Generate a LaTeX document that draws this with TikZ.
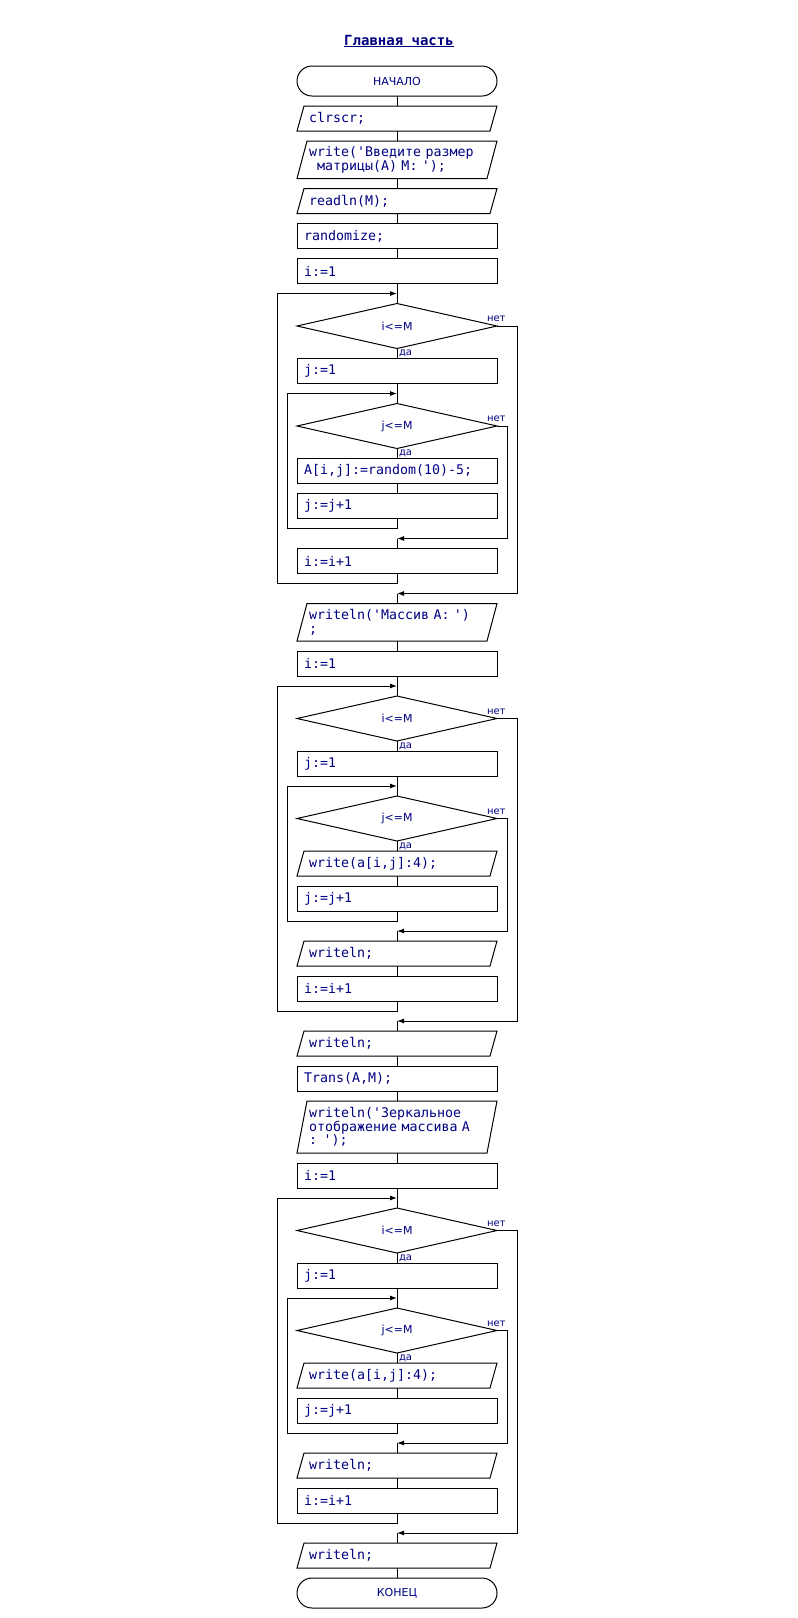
\documentclass[tikz,border=0pt]{standalone}
\usepackage{fontspec}
\setmainfont{DejaVu Sans}
\setmonofont{DejaVu Sans Mono}[WordSpace={1,0,0}]
\usetikzlibrary{arrows.meta,shapes.geometric}
\definecolor{navy}{RGB}{0,0,128}
\begin{document}
\begin{tikzpicture}[x=1pt,y=-1pt,line width=1pt,
  every node/.style={outer sep=0pt,text=navy},
  code/.style={font=\ttfamily\fontsize{13.3}{13.3}\selectfont,minimum width=200pt,minimum height=25pt,inner ysep=0pt,anchor=north,align=left},
  box/.style={code,draw,inner xsep=7pt,text width=186pt},
  io/.style={code,inner xsep=12pt,text width=176pt},
  cond/.style={diamond,draw,minimum width=200pt,minimum height=45pt,inner sep=0pt,anchor=north,font=\fontsize{11}{13}\selectfont},
  term/.style={draw,rounded corners=15pt,minimum width=200pt,minimum height=30pt,anchor=north,font=\fontsize{11}{13}\selectfont},
  lab/.style={inner sep=0pt,font=\fontsize{10}{12}\selectfont},
  flow/.style={-{Latex[length=7pt,width=5pt]}}]
\useasboundingbox (0,0) rectangle (798,1618);
\node[anchor=base,font=\ttfamily\bfseries\fontsize{14}{14}\selectfont] (title) at (399,45) {\underline{Главная часть}};
% main column
\node[term] (start) at (397,66) {НАЧАЛО};
\node[io] (clr) at (397,106) {clrscr;};
\node[io,minimum height=37.5pt] (wr) at (397,141) {write('Введите размер\\\hspace*{8pt}матрицы(A) M: ');};
\node[io] (rd) at (397,188.5) {readln(M);};
\node[box] (rnd) at (397,223.5) {randomize;};
\node[box] (i1) at (397,258.5) {i:=1};
\node[cond] (cA) at (397,303.5) {i<=M};
\node[box] (j1) at (397,358.5) {j:=1};
\node[cond] (cB) at (397,403.5) {j<=M};
\node[box] (ar) at (397,458.5) {A[i,j]:=random(10)-5;};
\node[box] (jn1) at (397,493.5) {j:=j+1};
\node[box] (in1) at (397,548.5) {i:=i+1};
\node[io,minimum height=37.5pt] (wm) at (397,603.5) {writeln('Массив A: ')\\;};
\node[box] (i2) at (397,651) {i:=1};
\node[cond] (cC) at (397,696) {i<=M};
\node[box] (j2) at (397,751) {j:=1};
\node[cond] (cD) at (397,796) {j<=M};
\node[io] (wa1) at (397,851) {write(a[i,j]:4);};
\node[box] (jn2) at (397,886) {j:=j+1};
\node[io] (wl1) at (397,941) {writeln;};
\node[box] (in2) at (397,976) {i:=i+1};
\node[io] (wl2) at (397,1031) {writeln;};
\node[box] (tr) at (397,1066) {Trans(A,M);};
\node[io,minimum height=52pt] (wz) at (397,1101) {writeln('Зеркальное\\отображение массива A\\: ');};
\node[box] (i3) at (397,1163) {i:=1};
\node[cond] (cE) at (397,1208) {i<=M};
\node[box] (j3) at (397,1263) {j:=1};
\node[cond] (cF) at (397,1308) {j<=M};
\node[io] (wa2) at (397,1363) {write(a[i,j]:4);};
\node[box] (jn3) at (397,1398) {j:=j+1};
\node[io] (wl3) at (397,1453) {writeln;};
\node[box] (in3) at (397,1488) {i:=i+1};
\node[io] (wl4) at (397,1543) {writeln;};
\node[term] (stop) at (397,1578) {КОНЕЦ};
% parallelograms
\draw (clr.south west) -- ([xshift=7]clr.north west) -- (clr.north east) -- ([xshift=-7]clr.south east) -- cycle;
\draw (wr.south west) -- ([xshift=10]wr.north west) -- (wr.north east) -- ([xshift=-10]wr.south east) -- cycle;
\draw (rd.south west) -- ([xshift=7]rd.north west) -- (rd.north east) -- ([xshift=-7]rd.south east) -- cycle;
\draw (wm.south west) -- ([xshift=10]wm.north west) -- (wm.north east) -- ([xshift=-10]wm.south east) -- cycle;
\draw (wa1.south west) -- ([xshift=7]wa1.north west) -- (wa1.north east) -- ([xshift=-7]wa1.south east) -- cycle;
\draw (wl1.south west) -- ([xshift=7]wl1.north west) -- (wl1.north east) -- ([xshift=-7]wl1.south east) -- cycle;
\draw (wl2.south west) -- ([xshift=7]wl2.north west) -- (wl2.north east) -- ([xshift=-7]wl2.south east) -- cycle;
\draw (wz.south west) -- ([xshift=10]wz.north west) -- (wz.north east) -- ([xshift=-10]wz.south east) -- cycle;
\draw (wa2.south west) -- ([xshift=7]wa2.north west) -- (wa2.north east) -- ([xshift=-7]wa2.south east) -- cycle;
\draw (wl3.south west) -- ([xshift=7]wl3.north west) -- (wl3.north east) -- ([xshift=-7]wl3.south east) -- cycle;
\draw (wl4.south west) -- ([xshift=7]wl4.north west) -- (wl4.north east) -- ([xshift=-7]wl4.south east) -- cycle;
% straight links
\draw (start) -- (clr);
\draw (clr) -- (wr);
\draw (wr) -- (rd);
\draw (rd) -- (rnd);
\draw (rnd) -- (i1);
\draw (i1) -- (cA);
\draw (cA) -- (j1);
\draw (j1) -- (cB);
\draw (cB) -- (ar);
\draw (ar) -- (jn1);
\draw (wm) -- (i2);
\draw (i2) -- (cC);
\draw (cC) -- (j2);
\draw (j2) -- (cD);
\draw (cD) -- (wa1);
\draw (wa1) -- (jn2);
\draw (wl1) -- (in2);
\draw (wl2) -- (tr);
\draw (tr) -- (wz);
\draw (wz) -- (i3);
\draw (i3) -- (cE);
\draw (cE) -- (j3);
\draw (j3) -- (cF);
\draw (cF) -- (wa2);
\draw (wa2) -- (jn3);
\draw (wl3) -- (in3);
\draw (wl4) -- (stop);
% loops, first part
\coordinate (inA) at (397,293.5);
\coordinate (backA) at (277,583.5);
\coordinate (exA) at (517,593.5);
\coordinate (outA) at (397,593.5);
\coordinate (inB) at (397,393.5);
\coordinate (backB) at (287,528.5);
\coordinate (exB) at (507,538.5);
\coordinate (outB) at (397,538.5);
\draw[flow] (jn1.south) |- (backB) |- (inB);
\draw[flow] (cB.east) -| (exB) -- (outB);
\draw (outB) -- (in1.north);
\draw[flow] (in1.south) |- (backA) |- (inA);
\draw[flow] (cA.east) -| (exA) -- (outA);
\draw (outA) -- (wm.north);
% loops, second part
\coordinate (inC) at (397,686);
\coordinate (backC) at (277,1011);
\coordinate (exC) at (517,1021);
\coordinate (outC) at (397,1021);
\coordinate (inD) at (397,786);
\coordinate (backD) at (287,921);
\coordinate (exD) at (507,931);
\coordinate (outD) at (397,931);
\draw[flow] (jn2.south) |- (backD) |- (inD);
\draw[flow] (cD.east) -| (exD) -- (outD);
\draw (outD) -- (wl1.north);
\draw[flow] (in2.south) |- (backC) |- (inC);
\draw[flow] (cC.east) -| (exC) -- (outC);
\draw (outC) -- (wl2.north);
% loops, third part
\coordinate (inE) at (397,1198);
\coordinate (backE) at (277,1523);
\coordinate (exE) at (517,1533);
\coordinate (outE) at (397,1533);
\coordinate (inF) at (397,1298);
\coordinate (backF) at (287,1433);
\coordinate (exF) at (507,1443);
\coordinate (outF) at (397,1443);
\draw[flow] (jn3.south) |- (backF) |- (inF);
\draw[flow] (cF.east) -| (exF) -- (outF);
\draw (outF) -- (wl3.north);
\draw[flow] (in3.south) |- (backE) |- (inE);
\draw[flow] (cE.east) -| (exE) -- (outE);
\draw (outE) -- (wl4.north);
% yes / no
\node[lab,anchor=west] (yA) at ([xshift=2,yshift=-5]cA.south) {да};
\node[lab,anchor=south west] (nA) at ([xshift=-10,yshift=4]cA.east) {нет};
\node[lab,anchor=west] (yB) at ([xshift=2,yshift=-5]cB.south) {да};
\node[lab,anchor=south west] (nB) at ([xshift=-10,yshift=4]cB.east) {нет};
\node[lab,anchor=west] (yC) at ([xshift=2,yshift=-5]cC.south) {да};
\node[lab,anchor=south west] (nC) at ([xshift=-10,yshift=4]cC.east) {нет};
\node[lab,anchor=west] (yD) at ([xshift=2,yshift=-5]cD.south) {да};
\node[lab,anchor=south west] (nD) at ([xshift=-10,yshift=4]cD.east) {нет};
\node[lab,anchor=west] (yE) at ([xshift=2,yshift=-5]cE.south) {да};
\node[lab,anchor=south west] (nE) at ([xshift=-10,yshift=4]cE.east) {нет};
\node[lab,anchor=west] (yF) at ([xshift=2,yshift=-5]cF.south) {да};
\node[lab,anchor=south west] (nF) at ([xshift=-10,yshift=4]cF.east) {нет};
\end{tikzpicture}
\end{document}
